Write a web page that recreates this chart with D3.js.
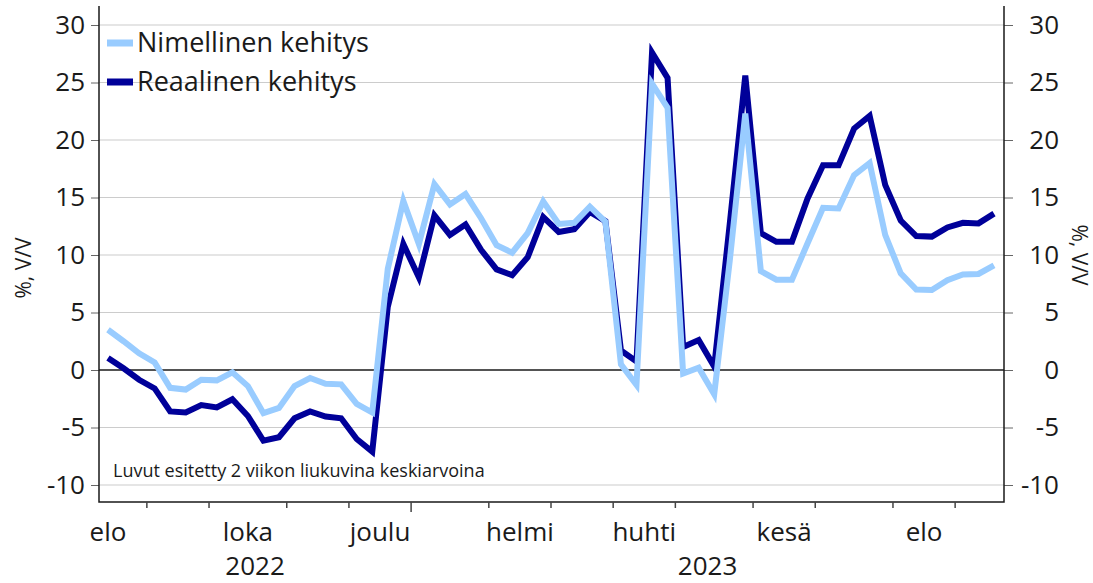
<!DOCTYPE html>
<html>
<head>
<meta charset="utf-8">
<script src="https://cdn.jsdelivr.net/npm/d3@7"></script>
<style>
  body { margin: 0; background: #fff; }
  #chart { width: 1093px; height: 583px; }
  text { font-family: "Open Sans", sans-serif; fill: #1a1a1a; }
</style>
</head>
<body>
<div id="chart"></div>
<script>
//Datos: viikoittaiset havainnot (2 viikon liukuva keskiarvo)
const firstWeek = '2022-08-15';
const nimellinen = [3.5, 2.5, 1.45, 0.65, -1.55, -1.7, -0.85, -0.9, -0.2, -1.4,
  -3.75, -3.3, -1.4, -0.7, -1.2, -1.25, -2.95, -3.7, 8.8, 14.7,
  10.95, 16.15, 14.4, 15.3, 13.2, 10.85, 10.2, 11.9, 14.65, 12.7,
  12.8, 14.2, 12.9, 0.5, -1.3, 24.9, 22.8, -0.3, 0.2, -2.1,
  9.5, 22.3, 8.6, 7.85, 7.85, 11.0, 14.1, 14.05, 16.95, 18.0,
  11.75, 8.4, 7.0, 6.95, 7.8, 8.3, 8.35, 9.1];
const reaalinen = [1.05, 0.15, -0.85, -1.6, -3.6, -3.7, -3.05, -3.25, -2.55, -4.0,
  -6.15, -5.85, -4.2, -3.6, -4.05, -4.2, -6.0, -7.1, 5.5, 10.95,
  8.05, 13.45, 11.75, 12.65, 10.45, 8.75, 8.25, 9.8, 13.3, 12.0,
  12.25, 13.75, 12.95, 1.7, 0.75, 27.6, 25.4, 2.0, 2.6, 0.3,
  12.7, 25.6, 11.9, 11.15, 11.15, 14.9, 17.8, 17.8, 21.0, 22.1,
  16.1, 13.0, 11.65, 11.6, 12.4, 12.8, 12.75, 13.6];
const seriesNames = ['Nimellinen kehitys', 'Reaalinen kehitys'];
const seriesColors = ['#99ccff', '#000099'];
const yTicks = [-10, -5, 0, 5, 10, 15, 20, 25, 30];
const labelMonths = ['2022-08', '2022-10', '2022-12', '2023-02', '2023-04', '2023-06', '2023-08'];
const monthLabels = ['elo', 'loka', 'joulu', 'helmi', 'huhti', 'kesä', 'elo'];
const tickMonths = ['2022-09', '2022-10', '2022-11', '2022-12', '2023-01', '2023-02', '2023-03',
  '2023-04', '2023-05', '2023-06', '2023-07', '2023-08', '2023-09'];
const years = ['2022', '2023'];
const yearStart = '2023-01';
const axisTitle = '%, V/V';
const note = 'Luvut esitetty 2 viikon liukuvina keskiarvoina';

const W = 1093, H = 583;
const plot = {left: 99, right: 1004, top: 6, bottom: 502};

const parseDay = d3.timeParse('%Y-%m-%d');
const parseMonth = d3.timeParse('%Y-%m');
const start = parseDay(firstWeek);

//viikkoindeksi päivämäärästä
function weekIndex(date) {
    return Math.round((date - start) / 6048e5);
}
function firstMondayIdx(m) {
    return weekIndex(d3.timeMonday.ceil(m));
}

const svg = d3.select('#chart').append('svg')
    .attr('width', W)
    .attr('height', H);

const x = d3.scaleLinear()
    .domain([0, nimellinen.length - 1])
    .range([108, 994]);

const y = d3.scaleLinear()
    .domain([-10, 30])
    .range([485, 25]);

//Gridlines
svg.append('g')
    .selectAll('line')
    .data(yTicks)
    .enter()
    .append('line')
    .attr('x1', plot.left)
    .attr('x2', plot.right)
    .attr('y1', d => y(d))
    .attr('y2', d => y(d))
    .attr('stroke', d => d === 0 ? '#1a1a1a' : '#cccccc')
    .attr('stroke-width', d => d === 0 ? 1.5 : 1.2);

//Left axis
let leftAxis = svg.append('g')
    .attr('transform', 'translate(' + plot.left + ',0)')
    .call(d3.axisLeft(y).tickValues(yTicks).tickSize(8).tickPadding(6).tickFormat(d3.format('d')));
leftAxis.select('.domain').remove();
leftAxis.selectAll('.tick line').attr('stroke', '#666');
leftAxis.selectAll('.tick text')
    .attr('font-size', 26)
    .attr('font-family', '"Open Sans", sans-serif')
    .attr('fill', '#1a1a1a')
    .text(d => d < 0 ? '-' + Math.abs(d) : d);

//Right axis
let rightAxis = svg.append('g')
    .attr('transform', 'translate(' + plot.right + ',0)')
    .call(d3.axisRight(y).tickValues(yTicks).tickSize(9).tickPadding(6));
rightAxis.select('.domain').remove();
rightAxis.selectAll('.tick line').attr('stroke', '#666');
rightAxis.selectAll('.tick text')
    .attr('font-size', 26)
    .attr('font-family', '"Open Sans", sans-serif')
    .attr('fill', '#1a1a1a')
    .attr('text-anchor', 'end')
    .attr('x', 55)
    .text(d => d < 0 ? '-' + Math.abs(d) : d);

//Frame
svg.append('path')
    .attr('d', 'M' + plot.left + ',' + plot.top + 'V' + plot.bottom + 'H' + plot.right + 'V' + plot.top)
    .attr('fill', 'none')
    .attr('stroke', '#1a1a1a')
    .attr('stroke-width', 1.5);

//X ticks at month boundaries
let tickIdx = tickMonths.map(m => firstMondayIdx(parseMonth(m)));
svg.append('g')
    .selectAll('line')
    .data(tickMonths)
    .enter()
    .append('line')
    .attr('x1', (d, i) => x(tickIdx[i] - 0.5))
    .attr('x2', (d, i) => x(tickIdx[i] - 0.5))
    .attr('y1', plot.bottom)
    .attr('y2', d => d === yearStart ? plot.bottom + 10 : plot.bottom + 6)
    .attr('stroke', '#444')
    .attr('stroke-width', 1.5);

//Month labels
svg.append('g')
    .selectAll('text')
    .data(labelMonths)
    .enter()
    .append('text')
    .attr('x', d => {
        let m = parseMonth(d);
        let a = firstMondayIdx(m);
        let b = firstMondayIdx(d3.timeMonth.offset(m, 1));
        return x((a + b - 1) / 2);
    })
    .attr('y', 541)
    .attr('text-anchor', 'middle')
    .attr('font-size', 26)
    .text((d, i) => monthLabels[i]);

//Year labels
let yearX = x(firstMondayIdx(parseMonth(yearStart)) - 0.5);
svg.append('g')
    .selectAll('text')
    .data(years)
    .enter()
    .append('text')
    .attr('x', (d, i) => i === 0 ? (plot.left + yearX) / 2 : (yearX + plot.right) / 2)
    .attr('y', 575)
    .attr('text-anchor', 'middle')
    .attr('font-size', 26)
    .text(d => d);

//Lines
let line = d3.line()
    .x((d, i) => x(i))
    .y(d => y(d));

[reaalinen, nimellinen].forEach(function(s, k) {
    svg.append('path')
        .datum(s)
        .attr('d', line)
        .attr('fill', 'none')
        .attr('stroke', k === 0 ? seriesColors[1] : seriesColors[0])
        .attr('stroke-width', 6)
        .attr('stroke-linejoin', 'miter');
});

//Legend
let legend = svg.append('g');
seriesNames.forEach(function(name, i) {
    let cy = 43 + i * 39;
    legend.append('rect')
        .attr('x', 107)
        .attr('y', cy - 3.5)
        .attr('width', 26)
        .attr('height', 7)
        .attr('fill', seriesColors[i]);
    legend.append('text')
        .attr('x', 137)
        .attr('y', cy)
        .attr('dy', '0.35em')
        .attr('font-size', 27)
        .text(name);
});

//Note
svg.append('text')
    .attr('x', 113)
    .attr('y', 477)
    .attr('font-size', 18)
    .text(note);

//Axis titles
svg.append('text')
    .attr('transform', 'translate(31,268) rotate(-90)')
    .attr('text-anchor', 'middle')
    .attr('font-size', 21)
    .text(axisTitle);
svg.append('text')
    .attr('transform', 'translate(1072,255) rotate(90)')
    .attr('text-anchor', 'middle')
    .attr('font-size', 21)
    .text(axisTitle);
</script>
</body>
</html>
